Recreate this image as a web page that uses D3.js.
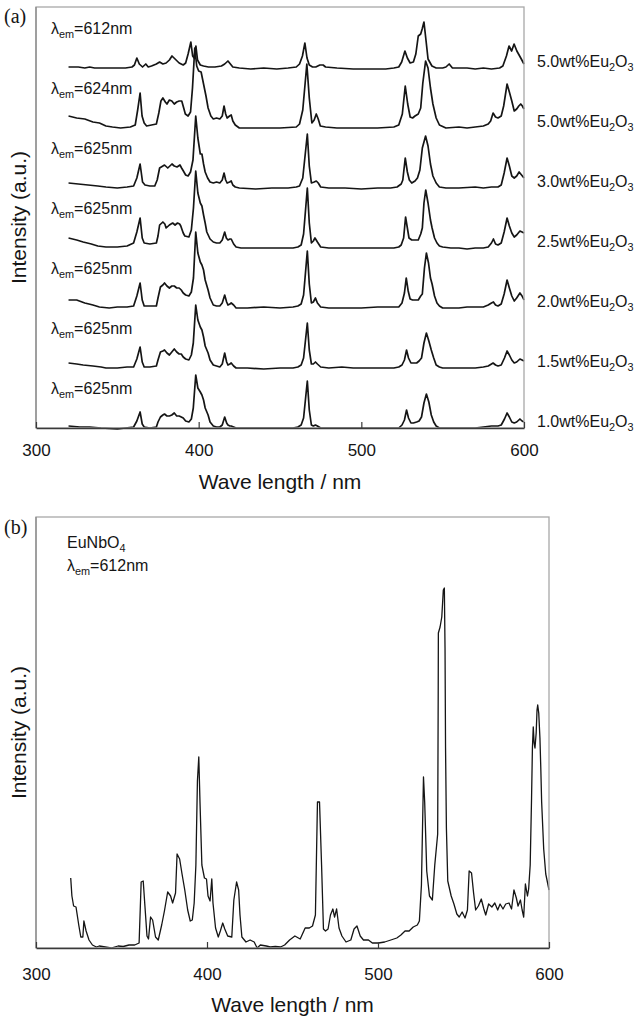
<!DOCTYPE html>
<html>
<head>
<meta charset="utf-8">
<script src="https://cdn.jsdelivr.net/npm/d3@7"></script>
<style>
  html, body { margin: 0; padding: 0; background: #fff; }
  svg { display: block; font-family: "Liberation Sans", Arial, Helvetica, sans-serif; }
</style>
</head>
<body>
<svg id="chart" width="639" height="1025"></svg>
<script>
// ---------- (a) excitation spectra of the glass series, [wavelength nm, intensity a.u.] ----------
const spec50a = [[320,1],[326,1],[330,0],[333,1],[336,0],[345,0],[355,0],[359,1],[360.5,3],[362,10],[363.5,4],[365.5,1],[367.5,4],[369,1],[371,2],[374,4],[376,6],[378,4],[380,5],[382,8],[383.6,12],[385.5,9],[388,5],[390.5,3],[392,5],[393.5,14],[395.2,26],[396.3,12],[397.2,10],[398.3,22],[399.3,8],[401,3],[403,2],[406,1],[410,1],[414,2],[416,4],[418,7],[419.5,4],[421,1],[425,0],[432,-1],[440,0],[448,-1],[455,0],[460,1],[462,4],[463.8,12],[465.3,25],[466.6,10],[468,3],[470,1],[472,1],[474.5,3],[476.5,3],[478,1],[485,0],[495,-1],[505,-1],[515,-1],[520,0],[523,1],[524.8,6],[526.8,17],[528.3,10],[530,5],[532,6],[533.5,14],[535,32],[536.5,34],[537.4,39],[538.5,46],[539.8,27],[541,9],[543.4,2],[546,0],[550,0],[552,1],[554,4],[556,0],[565,0],[570,-1],[575,0],[580,-1],[585,0],[587,2],[589.2,12],[590.8,22],[592.4,17],[593.9,24],[595.6,17],[598,10],[600,4]];

const spec50b = [[320,12],[325,10],[330,9],[335,6],[339,5],[343,2],[347,1],[352,0],[358,1],[361,3],[362.5,18],[364,35],[365.2,12],[366.5,5],[368,2],[371,3],[374,4],[375.5,15],[376.8,27],[378,30],[379.5,26],[380.5,24],[382,28],[383.5,27],[385,24],[386.5,26],[388,27],[389.6,27],[390.8,20],[391.8,14],[393.5,12],[395,16],[396.2,40],[397.6,80],[398.8,62],[400,57],[401.5,56],[403,44],[404.5,32],[405.8,20],[407.5,12],[409,9],[411,10],[413,9],[414.5,12],[415.6,22],[416.6,14],[417.5,10],[419,12],[420,13],[421,7],[422.5,3],[425,0],[440,0],[450,0],[460,1],[462,4],[464,18],[466.5,64],[468,30],[469.6,5],[471,8],[472.3,14],[473.5,9],[474.8,2],[478,1],[485,0],[500,0],[510,0],[520,1],[523,3],[525.2,14],[527,42],[528.5,24],[530,11],[531.5,10],[533,12],[535,14],[536.5,20],[537.8,45],[539.5,67],[541,60],[542.5,40],[544,24],[546,10],[548,3],[552,0],[560,1],[565,0],[570,1],[575,2],[578,4],[579.5,7],[581,15],[582.5,11],[584,10],[586,12],[587.5,22],[589.6,44],[591,36],[592.5,27],[594,17],[595.5,19],[596.8,22],[598,24],[599,22],[600,19]];

const spec30 = [[320,5],[326,4],[332,3],[338,2],[343,1],[350,0],[356,1],[360,2],[362,10],[364,24],[365.5,6],[367,3],[370,2],[373,2],[374.5,8],[376,20],[378,22],[379,23],[381,20],[383.6,24],[385,22],[386.7,21],[388.5,23],[389.5,20],[390.6,17],[392,13],[393.5,12],[395,16],[396.5,28],[398.2,72],[399.5,50],[401,34],[402,34],[403,24],[404,16],[405.5,10],[407,6],[409,5],[411,6],[413,5],[414.5,8],[415.6,15],[416.6,8],[417.5,5],[419,6],[420,7],[421,3],[422.5,1],[425,0],[435,-1],[445,0],[455,0],[460,1],[462,2],[464,10],[466.8,54],[468,22],[469.3,5],[471,6],[472.3,7],[473.5,5],[475,1],[480,0],[490,0],[500,-1],[510,0],[518,0],[522,1],[524.5,4],[525.5,8],[527,30],[528.3,16],[529.5,8],[531,5],[533,7],[534.5,10],[536,18],[537.5,40],[539.5,52],[541,42],[542.5,24],[544,12],[546,5],[548,1],[552,0],[560,0],[570,1],[575,0],[580,1],[584,1],[586,3],[587.8,15],[589.6,30],[591,22],[592.5,12],[594,10],[595.5,12],[597,16],[598.5,13],[600,10]];

const spec25 = [[320,10],[325,8],[329,6],[334,4],[338,2],[343,1],[350,1],[356,2],[360,5],[362,16],[364,30],[365.3,10],[366.5,5],[370,4],[374,5],[375,12],[376,23],[378,26],[379.2,24],[380,20],[382,23],[384,25],[385.5,23],[387,25],[388.3,24],[389,22],[390.5,15],[391.5,12],[394,11],[395.5,18],[396.8,40],[398.2,77],[399.5,55],[401,45],[402,42],[403,33],[404,25],[405,16],[407,9],[409,6],[411,5],[413,5],[414.5,8],[416,16],[417,10],[418,8],[419.2,9],[420,9],[421.5,4],[423,1],[426,0],[440,0],[450,0],[458,0],[461,1],[463,3],[464.5,14],[466.8,60],[468,25],[469.3,5],[470.5,7],[471.5,10],[473,6],[475,1],[480,0],[490,0],[500,0],[510,0],[520,0],[523,1],[524.5,3],[526,10],[527.2,31],[528.3,20],[529.3,10],[531,8],[533,8],[535,8],[536.5,14],[537.5,20],[538.5,45],[539.6,58],[541,45],[542.5,28],[543.5,20],[545,10],[546.5,5],[548,2],[550,1],[555,0],[560,0],[565,-1],[570,0],[575,0],[578,1],[580,5],[581.2,9],[582.5,4],[584,3],[586,5],[587.8,16],[589.6,30],[591,22],[592.5,15],[594,11],[595.5,13],[597.5,17],[598.8,16],[600,15]];

const spec20 = [[320,8],[325,8],[330,5],[335,3],[339,1],[345,0],[350,1],[356,1],[360,2],[362,12],[364,25],[365.3,8],[366.5,2],[370,2],[374,2],[375,10],[376.5,21],[378,23],[379,25],[380.5,22],[382,20],[383.5,22],[385,22],[386.5,20],[388,20],[389.3,18],[390.5,15],[392,13],[394,12],[395.5,16],[396.8,30],[398.2,76],[399.5,55],[401,46],[402,43],[403,38],[404,28],[405.8,18],[407,10],[409,3],[411,2],[413,2],[414.5,5],[416,13],[417.2,6],[418,3],[419.2,4],[420,5],[421.5,3],[423,0],[430,0],[440,1],[450,0],[458,1],[461,2],[463,4],[464.5,13],[466.8,57],[468,24],[469.3,5],[470.5,6],[471.8,10],[473,5],[475,1],[480,0],[490,0],[500,0],[510,1],[515,1],[520,1],[523,1],[525,5],[526.5,15],[527.6,30],[528.8,17],[530,9],[531.5,8],[533,8],[535,8],[536.5,12],[537.5,14],[538.8,40],[540,55],[541.3,45],[542.5,30],[543.5,24],[545,12],[546.5,5],[548,2],[550,0],[555,0],[560,0],[565,1],[570,1],[575,1],[578,3],[580,5],[581.2,6],[582.5,3],[584,2],[586,4],[587.8,14],[589.6,28],[591,20],[592.5,12],[594,7],[595.5,10],[597.5,15],[598.8,12],[600,8]];

const spec15 = [[320,5],[325,4],[329,3],[335,2],[340,1],[343,0],[350,0],[356,1],[360,1],[362,9],[364,21],[365.3,6],[366.5,1],[370,1],[374,2],[375,8],[376.5,16],[378,17],[379,18],[380.5,15],[382,13],[383.5,16],[385,19],[386.5,16],[388,14],[389.3,14],[390.5,11],[392,9],[394,8],[395.5,13],[396.7,25],[398.2,63],[399.5,48],[401,41],[402,38],[403,31],[404,22],[405.8,15],[407,8],[409,3],[411,2],[413,1],[414.5,4],[416,15],[417.2,6],[418,3],[419.2,4],[420,5],[421.5,2],[423,0],[430,0],[440,-1],[450,0],[458,0],[461,1],[463,3],[464.5,10],[466.8,45],[468,18],[469.3,4],[470.5,4],[471.8,6],[473,4],[475,1],[480,0],[488,1],[495,0],[500,0],[510,0],[520,0],[523,1],[525,3],[526.5,8],[527.8,18],[529,10],[530.5,5],[532,5],[534,5],[535.5,7],[537,10],[538.5,25],[540,35],[541.5,27],[543,18],[544.5,10],[546,3],[548,1],[550,0],[560,0],[570,0],[575,1],[578,2],[580,4],[581,5],[582.5,3],[584,2],[586,3],[588,10],[589.6,17],[591,13],[592.5,8],[594,5],[595.5,6],[597.5,9],[598.8,8],[600,7]];

const spec10 = [[320,2],[327,1],[333,1],[340,0],[350,-1],[355,0],[360,1],[362,7],[364,16],[365.3,4],[366.5,1],[370,0],[374,1],[375,6],[376.5,11],[378,13],[379,14],[380.5,12],[382,12],[383.5,13],[385,15],[386.5,12],[388,12],[389.3,11],[390.5,10],[392,7],[394,6],[395.5,9],[396.7,20],[398.2,53],[399.5,40],[401,36],[402,33],[403,28],[404,20],[405.8,13],[407,6],[409,2],[411,1],[413,1],[414.5,3],[416,11],[417.2,5],[418,3],[419.2,2],[420,2],[421.5,1],[423,0],[430,0],[440,0],[450,0],[458,0],[461,1],[463,3],[464.5,10],[466.8,47],[468,18],[469.3,3],[470.5,2],[471.8,3],[473,2],[475,0],[480,0],[490,0],[500,0],[510,0],[520,0],[523,0],[525,3],[526.5,8],[527.8,18],[529,10],[530.5,5],[532,5],[534,6],[535.5,7],[537,11],[538.5,25],[540,34],[541.5,26],[543,13],[544.5,6],[546,2],[548,0],[550,0],[560,0],[570,0],[575,1],[580,2],[582,2],[584,2],[586,3],[588,9],[589.6,15],[591,11],[592.5,6],[594,5],[595.5,6],[597.5,9],[598.8,7],[600,6]];

// stacking order (top to bottom), labels and vertical offsets
const seriesData  = [spec50a, spec50b, spec30, spec25, spec20, spec15, spec10];
const concLabels  = ["5.0", "5.0", "3.0", "2.5", "2.0", "1.5", "1.0"];
const emWaves     = [612, 624, 625, 625, 625, 625, 625];
const offsets     = [360, 300, 240, 180, 120, 60, 0];

// ---------- (b) EuNbO4 excitation spectrum ----------
const specEuNbO4 = [[320.3,70],[321,52],[322,42],[323.4,41],[325,23],[326.2,11],[327.4,11],[328,27],[329.3,17],[331,8],[333,3],[335.3,1],[337,2],[340.5,1],[344,0],[348,2],[351,1.5],[354.4,3],[357.7,3],[360.3,5],[361.5,66],[362.7,67],[363.7,42],[364.9,12],[365.8,9],[367,31],[368.2,28],[369.9,11],[371.5,8],[373.5,23],[375.1,37],[377,56],[378.7,52],[379.9,45],[381.6,55],[382.5,94],[384,89],[385.4,74],[387,58],[388.7,38],[390.2,27],[391.4,28],[392.5,45],[393.5,83],[394.4,167],[395.2,191],[395.9,146],[397,83],[398.5,70],[399.7,69],[400.6,52],[401.8,47],[402.8,69],[403.5,45],[405,20],[406.6,11],[407.8,17],[409.2,25],[410.4,19],[412.1,12],[414.5,11],[415.7,48],[417.3,66],[418.5,58],[419.3,33],[420.4,11],[422.8,6],[425.2,8],[427.6,6],[429.3,0],[431.2,3],[434.7,2],[437,1],[440,1.5],[443,1],[445.4,3],[448.3,8],[451.4,12],[454.5,9],[457.4,20],[459.8,20],[461.7,22],[463.4,33],[464.6,146],[465.8,146],[467,83],[468.1,19],[469.3,17],[470.8,19],[472.2,33],[473.6,39],[474.6,31],[475.8,39],[477.2,20],[478.9,12],[481.3,6],[484.1,8],[486,19],[487.7,22],[489.6,12],[491.5,8],[494.4,8],[496.7,5],[500.3,5],[503.9,6],[507.5,8],[511,10],[513.4,13],[515.8,17],[518.2,17],[520.6,21],[523,23],[524.2,27],[525.4,63],[526.6,171],[527.3,146],[528.5,77],[530.1,52],[531.8,48],[533.2,83],[534.9,114],[535.2,250],[535.3,315],[536.3,321],[537.3,331],[538.2,358],[538.8,360],[539.2,300],[539.5,200],[540,120],[540.8,67],[542.8,52],[544.4,44],[546.1,34],[547.5,31],[549.2,36],[550.9,30],[552.3,38],[553.3,77],[554.7,75],[555.9,55],[557.1,38],[558.7,42],[560.4,49],[561.9,39],[563,33],[564.7,44],[566.6,41],[568.3,45],[570,38],[571.4,44],[573.1,39],[574.7,44],[576.6,45],[578.1,39],[579.5,58],[580.9,50],[581.9,42],[583.3,48],[584.3,38],[585.2,31],[586.2,64],[587.4,52],[588.1,59],[589,83],[589.8,150],[590.3,200],[590.8,221],[591.3,205],[591.8,200],[592.5,215],[593,238],[593.4,243],[594,235],[594.7,210],[595.2,180],[595.7,146],[596.9,99],[598.1,74],[599.3,64],[600,58]];

const xTicks = [300, 400, 500, 600];

// ---------- drawing ----------
const svg = d3.select("#chart");
const INK = "#151515";

// text with optional subscripts: parts = [[string, isSub], ...]
function richText(sel, parts, size) {
  let shifted = false;
  parts.forEach(([s, sub]) => {
    const t = sel.append("tspan").text(s);
    if (sub && !shifted) { t.attr("dy", size * 0.28).attr("font-size", size * 0.68); shifted = true; }
    else if (sub) { t.attr("font-size", size * 0.68); }
    else if (!sub && shifted) { t.attr("dy", -size * 0.28); shifted = false; }
  });
}

function drawFrame(g, x, y, pad, titleGap) {
  const [x0, x1] = x.range();
  const [y0, y1] = y.range();
  g.append("rect")
    .attr("x", x0).attr("y", y1)
    .attr("width", x1 - x0).attr("height", y0 - y1)
    .attr("fill", "none").attr("stroke", "#a8a8a8").attr("stroke-width", 1.3);
  g.append("line").attr("x1", x0).attr("x2", x0).attr("y1", y1).attr("y2", y0)
    .attr("stroke", "#8a8a8a").attr("stroke-width", 1.3);

  const axis = d3.axisBottom(x).tickValues(xTicks).tickFormat(d3.format("d"))
    .tickSizeInner(-6).tickSizeOuter(0).tickPadding(pad);
  const ax = g.append("g").attr("transform", `translate(0,${y0})`).call(axis);
  ax.select(".domain").attr("stroke", "#3a3a3a").attr("stroke-width", 1.6);
  ax.selectAll(".tick line").attr("stroke", "#3a3a3a").attr("stroke-width", 1.2);
  ax.selectAll(".tick text").attr("font-size", 17).attr("fill", INK)
    .attr("font-family", '"Liberation Sans", Arial, sans-serif');

  g.append("text")
    .attr("x", (x0 + x1) / 2).attr("y", y0 + titleGap)
    .attr("text-anchor", "middle").attr("font-size", 21).attr("fill", INK)
    .text("Wave length / nm");
  g.append("text")
    .attr("transform", `translate(26,${(y0 + y1) / 2}) rotate(-90)`)
    .attr("text-anchor", "middle").attr("font-size", 21).attr("fill", INK)
    .text("Intensity (a.u.)");
}

// ----- panel (a) -----
const xa = d3.scaleLinear().domain([300, 600]).range([36, 524]);
const ya = d3.scaleLinear().domain([0, 421]).range([428, 7]);
const ga = svg.append("g");

ga.append("text").attr("x", 4).attr("y", 23)
  .attr("font-family", '"Liberation Serif", "Times New Roman", serif')
  .attr("font-size", 20).attr("fill", INK).text("(a)");

const lineA = (off) => d3.line().x(d => xa(d[0])).y(d => ya(d[1] + off));

seriesData.forEach((s, i) => {
  ga.append("path").datum(s)
    .attr("d", lineA(offsets[i]))
    .attr("fill", "none").attr("stroke", INK)
    .attr("stroke-width", 1.7).attr("stroke-linejoin", "round");

  const base = ya(offsets[i]);
  const lt = ga.append("text").attr("x", 51).attr("y", base - 34)
    .attr("font-size", 16).attr("fill", INK);
  richText(lt, [["λ", false], ["em", true], ["=" + emWaves[i] + "nm", false]], 16);

  const rt = ga.append("text").attr("x", 537).attr("y", base - 1)
    .attr("font-size", 16).attr("fill", INK);
  richText(rt, [[concLabels[i] + "wt%Eu", false], ["2", true], ["O", false], ["3", true]], 16);
});

drawFrame(ga, xa, ya, 16, 61);

// ----- panel (b) -----
const xb = d3.scaleLinear().domain([300, 600]).range([36, 549]);
const yb = d3.scaleLinear().domain([0, 431]).range([948, 517]);
const gb = svg.append("g");

gb.append("text").attr("x", 4).attr("y", 534)
  .attr("font-family", '"Liberation Serif", "Times New Roman", serif')
  .attr("font-size", 20).attr("fill", INK).text("(b)");

const t1 = gb.append("text").attr("x", 67).attr("y", 548).attr("font-size", 16).attr("fill", INK);
richText(t1, [["EuNbO", false], ["4", true]], 16);
const t2 = gb.append("text").attr("x", 67).attr("y", 571).attr("font-size", 16).attr("fill", INK);
richText(t2, [["λ", false], ["em", true], ["=612nm", false]], 16);

gb.append("path").datum(specEuNbO4)
  .attr("d", d3.line().x(d => xb(d[0])).y(d => yb(d[1])))
  .attr("fill", "none").attr("stroke", INK)
  .attr("stroke-width", 1.3).attr("stroke-linejoin", "round");

drawFrame(gb, xb, yb, 20, 64);
</script>
</body>
</html>
